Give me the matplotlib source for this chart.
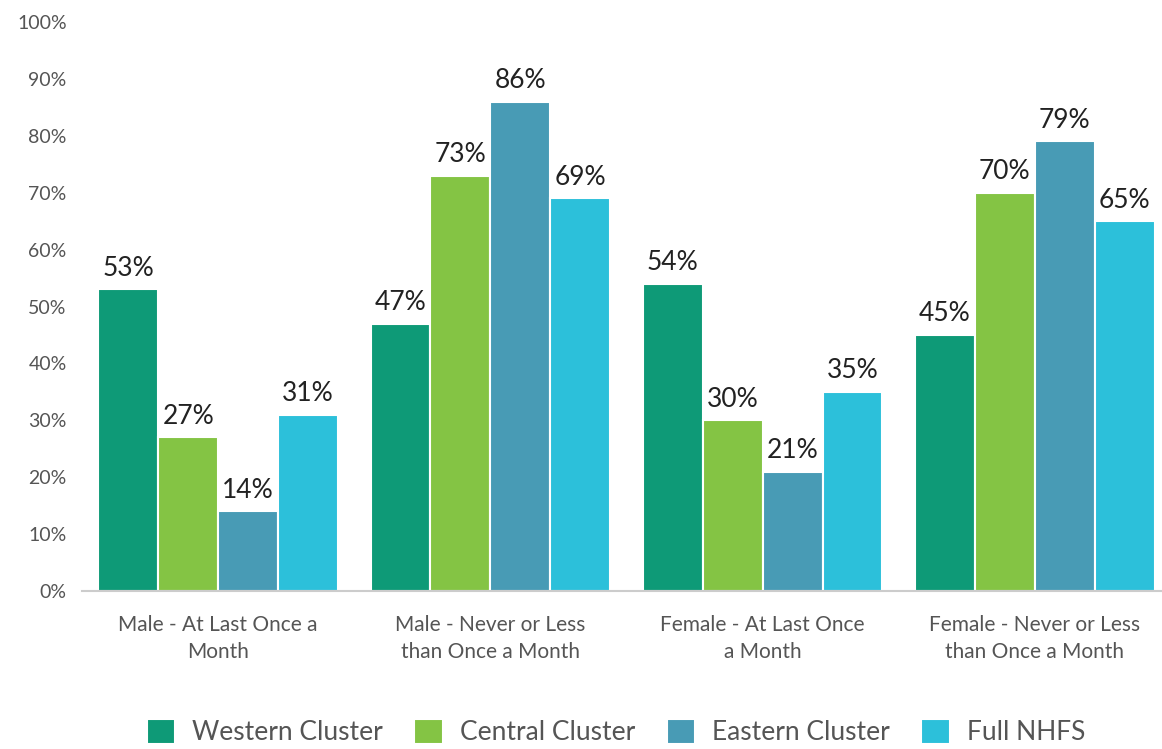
import matplotlib
matplotlib.use("Agg")
import matplotlib.pyplot as plt
import numpy as np

categories = ["Male - At Last Once a\nMonth", "Male - Never or Less\nthan Once a Month",
              "Female - At Last Once\na Month", "Female - Never or Less\nthan Once a Month"]
series_names = ["Western Cluster", "Central Cluster", "Eastern Cluster", "Full NHFS"]
western = [53, 47, 54, 45]
central = [27, 73, 30, 70]
eastern = [14, 86, 21, 79]
full_nhfs = [31, 69, 35, 65]
yticks = [0, 10, 20, 30, 40, 50, 60, 70, 80, 90, 100]

colors = ["#0E9A77", "#84C444", "#489BB5", "#2CC0DA"]
series = [western, central, eastern, full_nhfs]

fig = plt.figure(figsize=(11.62, 7.49), dpi=100)
ax = fig.add_axes([82/1162, 158/749, 1089/1162, (591-22)/749])

x = np.arange(len(categories))
w = 0.22
for i, (vals, c, name) in enumerate(zip(series, colors, series_names)):
    pos = x + (i - 1.5) * w
    bars = ax.bar(pos, vals, width=w, color=c, edgecolor="white", linewidth=1.5, label=name)
    for b, v in zip(bars, vals):
        ax.text(b.get_x() + b.get_width()/2, v + 1.5, f"{v}%", ha="center", va="bottom",
                fontsize=19, color="#222222", family="Lato")

ax.set_xlim(-0.5, 3.5)
ax.set_ylim(0, 100)
ax.set_yticks(yticks)
ax.set_yticklabels([f"{t}%" for t in yticks], fontsize=14, color="#555555", family="Lato")
ax.set_xticks(x)
ax.set_xticklabels(categories, fontsize=15, color="#555555", family="Lato", linespacing=1.45)
ax.tick_params(axis="both", length=0)
ax.tick_params(axis="x", pad=17)
ax.tick_params(axis="y", pad=11)
for s in ["top", "right", "left"]:
    ax.spines[s].set_visible(False)
ax.spines["bottom"].set_color("#cccccc")
ax.spines["bottom"].set_linewidth(1.5)

leg = fig.legend(loc="lower center", ncol=4, bbox_to_anchor=(0.53, -0.027), frameon=False,
                 prop={"family": "Lato", "size": 19}, handlelength=1.08, handleheight=1.08,
                 handletextpad=0.64, columnspacing=1.2, labelcolor="#555555")

fig.savefig("out.png", dpi=100)
